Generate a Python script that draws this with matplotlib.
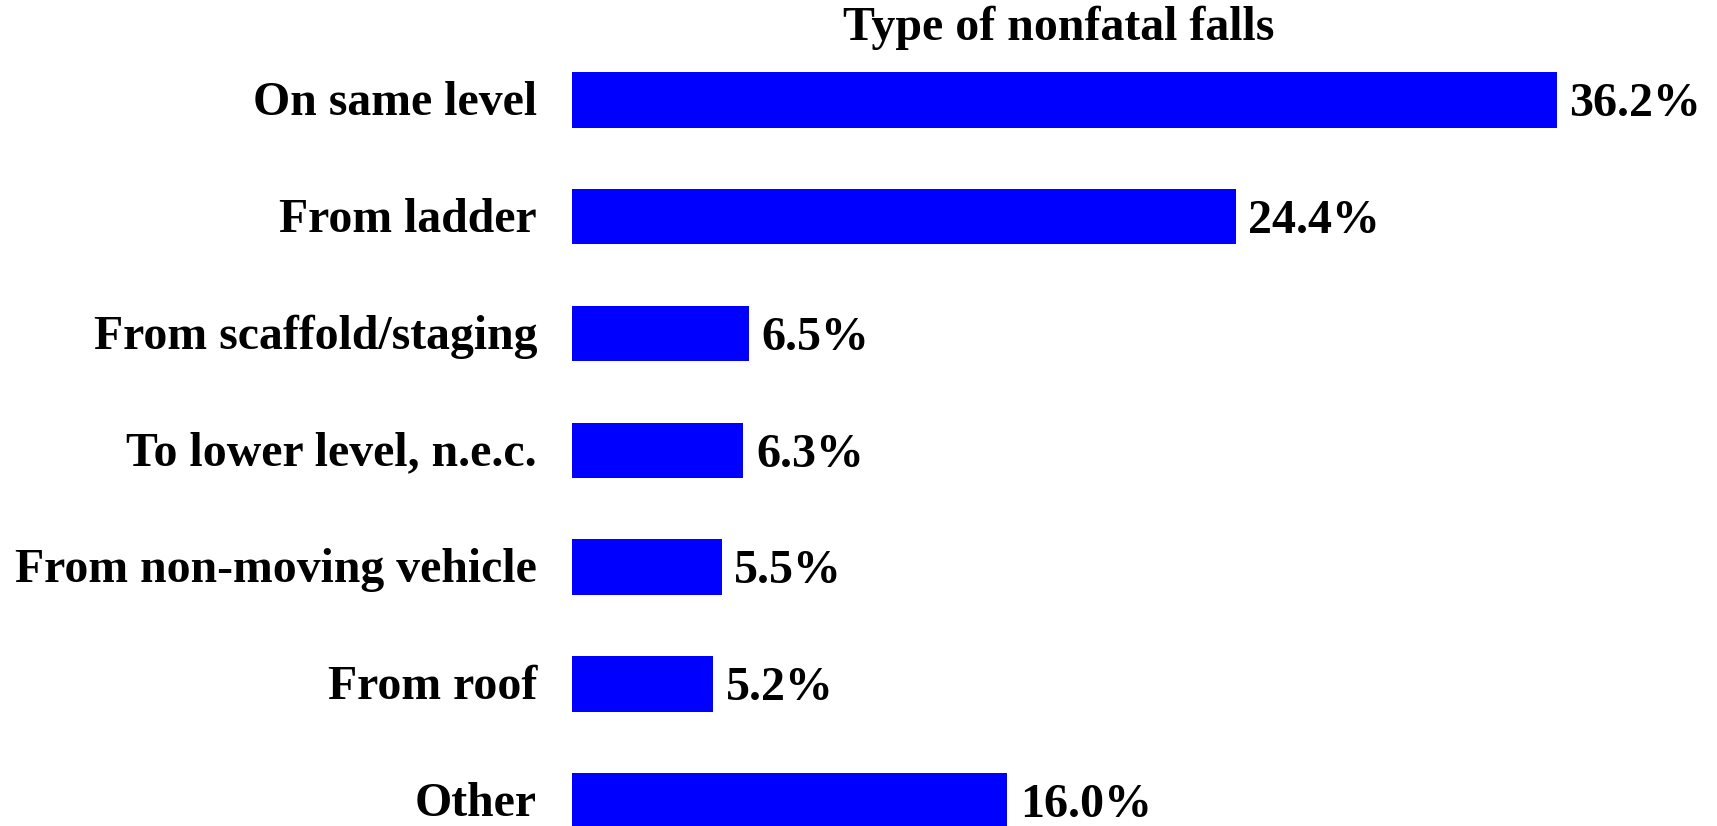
import matplotlib
matplotlib.use("Agg")
import matplotlib.pyplot as plt

categories = ["On same level", "From ladder", "From scaffold/staging",
              "To lower level, n.e.c.", "From non-moving vehicle", "From roof", "Other"]
values = [36.2, 24.4, 6.5, 6.3, 5.5, 5.2, 16.0]
title = "Type of nonfatal falls"

plt.rcParams['font.family'] = ['Liberation Serif', 'DejaVu Serif']

W, H = 1717, 826
fig = plt.figure(figsize=(W / 100, H / 100), dpi=100)
left_px = 572
px_per_unit_y = 116.8
ax = fig.add_axes([left_px / W, 0, (W - left_px) / W, 1])
ax.set_xlim(0, (W - left_px) / 27.2)
ax.set_ylim(6.216, -0.856)
ax.axis('off')

ypos = list(range(len(categories)))
ax.barh(ypos, values, height=0.474, color='#0000ff')
off_cat = 15.0 / px_per_unit_y
off_val = 16.3 / px_per_unit_y
for y, v, c in zip(ypos, values, categories):
    ax.text(v + 0.47, y + off_val, f"{v:.1f}%", va='baseline', ha='left',
            fontsize=34.6, fontweight='bold', color='black')
    ax.text(-35 / 27.2, y + off_cat, c, va='baseline', ha='right',
            fontsize=34.4, fontweight='bold', color='black', clip_on=False)

fig.text(1059 / W, 1 - 40 / H, title, ha='center', va='baseline',
         fontsize=34.5, fontweight='bold')

fig.savefig("out.png", dpi=100)
